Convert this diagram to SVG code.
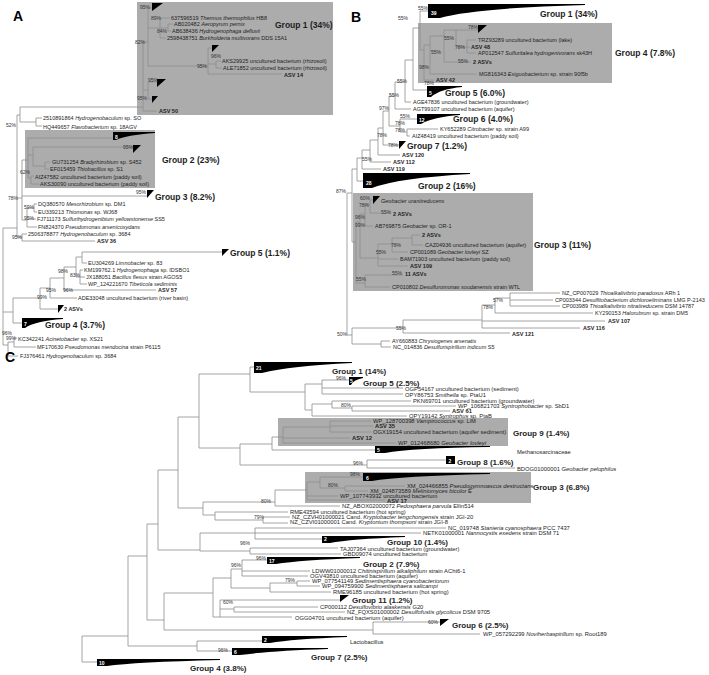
<svg xmlns="http://www.w3.org/2000/svg" width="709" height="675" viewBox="0 0 709 675">
<style>
.ln{fill:none;stroke:#8e8e8e;stroke-width:.8}
text{font-family:"Liberation Sans",Arial,sans-serif;fill:#1e1e1e}
.s{font-size:5.5px}
.sc{font-size:5.8px}
.bs{font-size:5px;fill:#333}
.bd{font-weight:bold}
.g{font-size:8.5px;font-weight:bold}
.gc{font-size:8px;font-weight:bold}
.w{fill:#fff;font-size:5px;font-weight:bold}
.box{fill:#acacac}
.tri{fill:#000}
.pl{font-size:14px;font-weight:bold;fill:#000}
.it{font-style:italic}
</style>
<rect width="709" height="675" fill="#fff"/>

<!-- ============ PANEL A ============ -->
<text class="pl" x="13" y="21">A</text>
<rect class="box" x="137" y="2" width="196" height="113"/>
<rect class="box" x="25" y="130" width="130" height="58"/>

<g id="connectors-A">
<path class="ln" d="M3 228V345M3 228H17M3 312H13M3 345H8
M17 115V237M17 115H20M17 198H22M17 237H22
M20 107V122M20 107H143M20 122H36
M36 118V126M36 118H42M36 126H42
M22 234V241M22 234H27M22 241H95
M22 160V220M22 160H28M22 196H147M22 220H27
M27 208V227M27 208H34M27 219H36M27 227H37
M34 204V212M34 204H37M34 212H37
M28 138V178M28 138H113M28 155H33M28 178H31
M33 147V166M33 147H133M33 166H45
M45 162V169M45 162H50M45 169H49
M31 176V184M31 176H34M31 184H39
M143 42V111M143 42H148M143 90H148M143 111H157
M148 82V99M148 82H157M148 99H152
M148 8V66M148 8H152M148 28H160M148 66H208
M160 18V38M160 18H170M160 28H168M160 38H166
M168 24V31M168 24H173M168 31H171
M208 48V74M208 48H212M208 64H216M208 74H282
M216 61V68M216 61H221M216 68H222
M13 298V323M13 298H40M13 323H22
M40 288V309M40 288H50M40 309H58
M50 278V298M50 278H64M50 298H77
M64 267V290M64 267H76M64 290H156
M76 257V277M76 257H82M76 277H80
M82 252V263M82 252H222M82 263H87
M80 270V284M80 270H83M80 277H85M80 284H87
M8 342V356M8 342H14M8 356H18
M14 338V347M14 338H17M14 347H36"/>
</g>

<g id="A-group1">
<path class="tri" d="M152 3H163L152 11Z"/>
<path class="tri" d="M157 79H166L157 87Z"/>
<path class="tri" d="M152 96H158L152 103Z"/>
<path class="tri" d="M212 45H219L212 52Z"/>
<text class="s" x="171" y="20">637596519 <tspan class="it">Thermus thermophilus</tspan> HB8</text>
<text class="s" x="174" y="26">AB020482 <tspan class="it">Aeropyrum pernix</tspan></text>
<text class="s" x="172" y="33">AB638436 <tspan class="it">Hydrogenophaga defluvii</tspan></text>
<text class="s" x="167" y="40">2598438751 <tspan class="it">Burkholderia multivorans</tspan> DDS 15A1</text>
<text class="s" x="222" y="63">AKS29925 uncultured bacterium (rhizosoil)</text>
<text class="s" x="223" y="70">ALE71852 uncultured bacterium (rhizosoil)</text>
<text class="s bd" x="284" y="77">ASV 14</text>
<text class="s bd" x="159" y="113">ASV 50</text>
<text class="g" x="275" y="28">Group 1 (34%)</text>
</g>
<g id="A-hydrogenobaculum">
<text class="s" x="43" y="120">2510891864 <tspan class="it">Hydrogenobaculum</tspan> sp. SO</text>
<text class="s" x="43" y="129">HQ449657 <tspan class="it">Flavobacterium</tspan> sp. 18AGV</text>
</g>
<g id="A-group2">
<path class="tri" d="M113 132H155L155 133Q126 135 116 140H113Z"/>
<text class="w" x="115" y="139">8</text>
<path class="tri" d="M133 145H141L133 153Z"/>
<text class="s" x="52" y="164">GU731254 <tspan class="it">Bradyrhizobium</tspan> sp. S452</text>
<text class="s" x="50" y="171">EF015459 <tspan class="it">Thiobacillus</tspan> sp. S1</text>
<text class="s" x="35" y="179">AIZ47582 uncultured bacterium (paddy soil)</text>
<text class="s" x="40" y="186">AKS30090 uncultured bacterium (paddy soil)</text>
<text class="g" x="162" y="163">Group 2 (23%)</text>
</g>
<g id="A-group3">
<path class="tri" d="M147 190H154L147 198Z"/>
<text class="g" x="155" y="200">Group 3 (8.2%)</text>
</g>
<g id="A-mid">
<text class="s" x="38" y="206">DQ380570 <tspan class="it">Mesorhizobium</tspan> sp. DM1</text>
<text class="s" x="38" y="214">EU339213 <tspan class="it">Thiomonas</tspan> sp. WJ68</text>
<text class="s" x="37" y="221">FJ711173 <tspan class="it">Sulfurihydrogenibium yellowstonense</tspan> SS5</text>
<text class="s" x="38" y="229">FN824370 <tspan class="it">Pseudomonas arsenicoxydans</tspan></text>
<text class="s" x="28" y="236">2506378877 <tspan class="it">Hydrogenobaculum</tspan> sp. 3684</text>
<text class="s bd" x="97" y="243">ASV 36</text>
</g>
<g id="A-group5">
<path class="tri" d="M222 249H229L222 256Z"/>
<text class="g" x="230" y="256">Group 5 (1.1%)</text>
</g>
<g id="A-lower">
<text class="s" x="88" y="265">EU304269 <tspan class="it">Limnobacter</tspan> sp. 83</text>
<text class="s" x="84" y="272">KM199762.1 <tspan class="it">Hydrogenophaga</tspan> sp. IDSBO1</text>
<text class="s" x="86" y="279">JX188051 <tspan class="it">Bacillus flexus</tspan> strain AGOS5</text>
<text class="s" x="88" y="286">WP_124221670 <tspan class="it">Tibeticola sediminis</tspan></text>
<text class="s bd" x="158" y="292">ASV 57</text>
<text class="s" x="78" y="300">ADE33048 uncultured bacterium (river basin)</text>
<path class="tri" d="M58 305H64L58 313Z"/>
<text class="s bd" x="64" y="311">2 ASVs</text>
</g>
<g id="A-group4">
<path class="tri" d="M22 318H63L63 319Q35 321 25 328H22Z"/>
<text class="w" x="24" y="326">7</text>
<text class="g" x="45" y="328">Group 4 (3.7%)</text>
</g>
<g id="A-bottom">
<text class="s" x="18" y="341">KC342241 <tspan class="it">Acinetobacter</tspan> sp. XS21</text>
<text class="s" x="37" y="349">MF170630 <tspan class="it">Pseudomonas mendocina</tspan> strain P6115</text>
<text class="s" x="20" y="358">FJ376461 <tspan class="it">Hydrogenobaculum</tspan> sp. 3684</text>
</g>
<g id="A-bootstrap">
<text class="bs" x="140" y="9">95%</text>
<text class="bs" x="151" y="20">89%</text>
<text class="bs" x="157" y="33">84%</text>
<text class="bs" x="135" y="44">82%</text>
<text class="bs" x="211" y="58">96%</text>
<text class="bs" x="197" y="68">95%</text>
<text class="bs" x="148" y="82">95%</text>
<text class="bs" x="137" y="100">95%</text>
<text class="bs" x="6" y="127">52%</text>
<text class="bs" x="123" y="149">95%</text>
<text class="bs" x="20" y="174">62%</text>
<text class="bs" x="136" y="194">95%</text>
<text class="bs" x="8" y="200">78%</text>
<text class="bs" x="24" y="209">59%</text>
<text class="bs" x="24" y="220">95%</text>
<text class="bs" x="12" y="239">95%</text>
<text class="bs" x="58" y="273">98%</text>
<text class="bs" x="70" y="276.5">83%</text>
<text class="bs" x="46" y="292">95%</text>
<text class="bs" x="63" y="292">96%</text>
<text class="bs" x="37" y="299">99%</text>
<text class="bs" x="2" y="335">96%</text>
<text class="bs" x="6" y="340">99%</text>
</g>

<!-- ============ PANEL B ============ -->
<text class="pl" x="351" y="22">B</text>
<rect class="box" x="418" y="23" width="194" height="60"/>
<rect class="box" x="353" y="193" width="180" height="98"/>

<g id="connectors-B">
<path class="ln" d="M420 11V50M420 11H428M420 50H424
M424 45V80M424 80H434M424 45H430
M430 36V74M430 74H477M430 36H444
M444 30V62M444 62H471M444 30H456
M456 30V47M456 30H478M456 47H467
M467 40V53M467 40H476M467 47H470M467 53H476
M413 28V90M413 28H420M413 90H427
M405 60V102M405 60H413M405 102H411
M395 82V109M395 82H405M395 109H411
M400 119V132M400 119H417M400 132H407
M407 129V136M407 129H438M407 136H410
M389 96V126M389 96H395M389 126H400
M383 111V145M383 111H389M383 145H399
M378 128V155M378 128H383M378 155H400
M370 140V162M370 140H378M370 162H391
M362 150V169M362 150H370M362 169H381
M357 158V181M357 158H362M357 181H363
M352 169V242M352 169H357M352 242H356
M347 193V335M347 193H352M347 335H352
M356 222V283M356 222H360M356 283H365
M360 214V258M360 214H365M360 258H378
M365 204V226M365 204H370M365 226H373
M370 200V213M370 200H373M370 213H391
M378 244V266M378 244H392M378 259H398M378 266H408
M392 238V252M392 238H412M392 252H408
M412 235V245M412 235H420M412 245H423
M365 275V287M365 275H403M365 287H390
M352 328V344M352 328H403M352 344H381
M381 341V347M381 341H390M381 347H391
M403 320V333M403 320H482M403 333H510
M482 305V328M482 305H495M482 321H605M482 328H580
M495 298V313M495 298H510M495 313H593
M510 293V306M510 293H560M510 300H553M510 306H560"/>
</g>

<g id="B-group1">
<path class="tri" d="M428 4H585L585 5Q475 8 440 18H428Z"/>
<text class="w" x="431" y="15">39</text>
<text class="g" x="540" y="17">Group 1 (34%)</text>
</g>
<g id="B-group4">
<path class="tri" d="M478 25H487L478 33Z"/>
<text class="s" x="478" y="42">TRZ93289 uncultured bacterium (lake)</text>
<text class="s bd" x="471" y="49">ASV 48</text>
<text class="s" x="478" y="55">AP012547 <tspan class="it">Sulfuritalea hydrogenivorans</tspan> sk43H</text>
<text class="s bd" x="473" y="64">2 ASVs</text>
<text class="s" x="479" y="76">MG816343 <tspan class="it">Exiguobacterium</tspan> sp. strain 90f5b</text>
<text class="s bd" x="436" y="82">ASV 42</text>
<text class="g" x="615" y="56">Group 4 (7.8%)</text>
</g>
<g id="B-group5">
<path class="tri" d="M427 86H462L462 87Q440 89 431 97H427Z"/>
<text class="w" x="429" y="95">5</text>
<text class="g" x="445" y="96">Group 5 (6.0%)</text>
</g>
<g id="B-mid">
<text class="s" x="413" y="104">AGE47836 uncultured bacterium (groundwater)</text>
<text class="s" x="413" y="111">AGT99107 uncultured bacterium (aquifer)</text>
</g>
<g id="B-group6">
<path class="tri" d="M417 114H460L460 115Q433 117 421 124H417Z"/>
<text class="w" x="419" y="122">12</text>
<text class="g" x="453" y="122">Group 6 (4.0%)</text>
<text class="s" x="440" y="131">KY652289 <tspan class="it">Citrobacter</tspan> sp. strain A99</text>
<text class="s" x="412" y="138">AIZ48419 uncultured bacterium (paddy soil)</text>
</g>
<g id="B-group7">
<path class="tri" d="M399 141H406L399 149Z"/>
<text class="g" x="407" y="149">Group 7 (1.2%)</text>
<text class="s bd" x="402" y="157">ASV 120</text>
<text class="s bd" x="393" y="164">ASV 112</text>
<text class="s bd" x="383" y="171">ASV 119</text>
</g>
<g id="B-group2">
<path class="tri" d="M363 173H470L470 174Q398 178 372 188H363Z"/>
<text class="w" x="366" y="185">28</text>
<text class="g" x="418" y="189">Group 2 (16%)</text>
</g>
<g id="B-group3">
<path class="tri" d="M373 196H380L373 204Z"/>
<text class="s it" x="381" y="203">Geobacter uraniireducens</text>
<text class="s bd" x="393" y="216">2 ASVs</text>
<text class="s" x="375" y="228">AB769875 <tspan class="it">Geobacter</tspan> sp. OR-1</text>
<text class="s bd" x="422" y="237">2 ASVs</text>
<text class="s" x="425" y="247">CAZ04936 uncultured bacterium (aquifer)</text>
<text class="s" x="410" y="254">CP001089 <tspan class="it">Geobacter lovleyi</tspan> SZ</text>
<text class="s" x="400" y="261">BAM71903 uncultured bacterium (paddy soil)</text>
<text class="s bd" x="410" y="268">ASV 109</text>
<text class="s bd" x="405" y="276">11 ASVs</text>
<text class="s" x="392" y="289">CP010802 <tspan class="it">Desulfuromonas soudanensis</tspan> strain WTL</text>
<text class="g" x="534" y="248">Group 3 (11%)</text>
</g>
<g id="B-lower">
<text class="s" x="562" y="295">NZ_CP007029 <tspan class="it">Thioalkalivibrio paradoxus</tspan> ARh 1</text>
<text class="s" x="555" y="302">CP003344 <tspan class="it">Desulfitobacterium dichloroeliminans</tspan> LMG P-2143</text>
<text class="s" x="562" y="308">CP003989 <tspan class="it">Thioalkalivibrio nitratireducens</tspan> DSM 14787</text>
<text class="s" x="595" y="315">KY290153 <tspan class="it">Halorubrum</tspan> sp. strain DM5</text>
<text class="s bd" x="608" y="323">ASV 107</text>
<text class="s bd" x="583" y="330">ASV 116</text>
<text class="s bd" x="512" y="336">ASV 121</text>
<text class="s" x="392" y="343">AY660883 <tspan class="it">Chrysiogenes arsenatis</tspan></text>
<text class="s" x="393" y="349">NC_014836 <tspan class="it">Desulfurispirillum indicum</tspan> S5</text>
</g>
<g id="B-bootstrap">
<text class="bs" x="418" y="10">55%</text>
<text class="bs" x="398" y="20">55%</text>
<text class="bs" x="468" y="29">78%</text>
<text class="bs" x="444" y="40">55%</text>
<text class="bs" x="455" y="49">78%</text>
<text class="bs" x="431" y="54">55%</text>
<text class="bs" x="458" y="63">55%</text>
<text class="bs" x="419" y="69">98%</text>
<text class="bs" x="424" y="85">78%</text>
<text class="bs" x="397" y="83">55%</text>
<text class="bs" x="389" y="97">55%</text>
<text class="bs" x="379" y="110">97%</text>
<text class="bs" x="400" y="118">55%</text>
<text class="bs" x="395" y="125">78%</text>
<text class="bs" x="395" y="132">78%</text>
<text class="bs" x="377" y="137">78%</text>
<text class="bs" x="388" y="147">78%</text>
<text class="bs" x="362" y="161">55%</text>
<text class="bs" x="336" y="193">87%</text>
<text class="bs" x="360" y="200">60%</text>
<text class="bs" x="359" y="207">78%</text>
<text class="bs" x="381" y="214">55%</text>
<text class="bs" x="355" y="219">96%</text>
<text class="bs" x="355" y="227">99%</text>
<text class="bs" x="391" y="247">78%</text>
<text class="bs" x="376" y="254">55%</text>
<text class="bs" x="392" y="275">55%</text>
<text class="bs" x="356" y="281">55%</text>
<text class="bs" x="493" y="302">57%</text>
<text class="bs" x="483" y="309">78%</text>
<text class="bs" x="396" y="330">55%</text>
<text class="bs" x="337" y="336">50%</text>
</g>

<!-- ============ PANEL C ============ -->
<text class="pl" x="5" y="362">C</text>
<rect class="box" x="278" y="418" width="230" height="28"/>
<rect class="box" x="305" y="472" width="226" height="31"/>

<g id="connectors-C">
<path class="ln" d="M82 636V662M82 636H128M82 662H97
M128 556V646M128 556H147M128 646H197
M197 641V651M197 641H262M197 651H232
M147 524V620M147 524H158M147 620H164
M164 593V630M164 593H213M164 630H373
M373 622V634M373 622H440M373 634H480
M213 578V617M213 578H231M213 617H220
M220 600V617M220 600H340M220 609H234M220 617H292
M234 607V612M234 607H318M234 612H345
M231 569V588M231 569H242M231 588H270
M242 560V576M242 560H267M242 571H310M242 576H308
M270 583V592M270 583H297M270 592H331
M297 581V586M297 581H310M297 586H320
M158 470V550M158 470H178M158 550H200
M200 533V551M200 533H255M200 551H250
M255 528V539M255 528H446M255 533H421M255 539H322
M250 548V554M250 548H338M250 554H341
M178 417V508M178 417H199M178 508H203
M203 502V515M203 502H275M203 515H215
M215 512V520M215 512H288M215 520H263
M263 517V523M263 517H290M263 523H288
M275 490V506M275 490H307M275 506H340
M307 482V500M307 482H320M307 496H338M307 500H385
M320 477V488M320 477H363M320 488H345
M345 486V491M345 486H405M345 491H368
M199 374V448M199 374H250M199 448H240
M250 367V392M250 367H254M250 392H305
M305 384V410M305 384H322M305 410H312
M322 380V394M322 380H349M322 388H403M322 394H403
M312 404V416M312 404H332M312 416H407
M332 401V408M332 401H411M332 408H352
M352 406V411M352 406H456M352 411H450
M240 444V465M240 444H272M240 465H367
M272 437V450M272 437H283M272 450H375
M283 427V443M283 427H330M283 438H350M283 443H396
M330 421V432M330 421H371M330 426H373M330 432H371
M367 460V468M367 460H446M367 468H515"/>
</g>

<g id="C-group1">
<path class="tri" d="M254 362H352L352 363Q290 366 262 373H254Z"/>
<text class="w" x="256" y="370">21</text>
<text class="gc" x="332" y="374">Group 1 (14%)</text>
</g>
<g id="C-group5">
<path class="tri" d="M349 377H363L363 378Q353 380 351 385H349Z"/>
<text class="w" x="350" y="383">5</text>
<text class="gc" x="363" y="386">Group 5 (2.5%)</text>
</g>
<g id="C-syntroph">
<text class="sc" x="405" y="391">OGP54167 uncultured  bacterium  (sediment)</text>
<text class="sc" x="405" y="397">OPY86753 <tspan class="it">Smithella</tspan> sp. PtaU1</text>
<text class="sc" x="413" y="403">PKN69701 uncultured  bacterium  (groundwater)</text>
<text class="sc" x="458" y="408">WP_106821703 <tspan class="it">Syntrophobacter</tspan> sp. SbD1</text>
<text class="sc bd" x="452" y="413">ASV 61</text>
<text class="sc" x="409" y="418">OPY19142 <tspan class="it">Syntrophus</tspan> sp. PtaB</text>
</g>
<g id="C-group9">
<text class="sc" x="373" y="423">WP_128700398 <tspan class="it">Vampirococcus</tspan> sp. LiM</text>
<text class="sc bd" x="375" y="428">ASV 35</text>
<text class="sc" x="373" y="434">OGX19154 uncultured  bacterium  (aquifer sediment)</text>
<text class="sc bd" x="352" y="440">ASV 12</text>
<text class="sc" x="398" y="445">WP_012468680 <tspan class="it">Geobacter lovleyi</tspan></text>
<text class="gc" x="513" y="436">Group 9 (1.4%)</text>
</g>
<g id="C-methano">
<path class="tri" d="M375 446H490L490 447Q412 448 385 453H375Z"/>
<text class="w" x="377" y="452">5</text>
<text class="sc" x="517" y="454">Methanosarcinaceae</text>
</g>
<g id="C-group8">
<rect class="tri" x="446" y="456" width="9" height="8"/>
<text class="w" x="448.5" y="462.5">2</text>
<text class="gc" x="457" y="465">Group 8 (1.6%)</text>
<text class="sc" x="517" y="471">BDOG01000001 <tspan class="it">Geobacter pelophilus</tspan></text>
</g>
<g id="C-group3">
<path class="tri" d="M363 473H490L490 474Q400 476 372 481H363Z"/>
<text class="w" x="366" y="480">6</text>
<text class="sc" x="407" y="488">XM_024466855 <tspan class="it">Pseudogymnoascus destructans</tspan></text>
<text class="sc" x="370" y="493">XM_024873589 <tspan class="it">Meliniomyces bicolor</tspan> E</text>
<text class="sc" x="340" y="498">WP_107743932 uncultured  bacterium</text>
<text class="sc bd" x="387" y="503">ASV 17</text>
<text class="gc" x="533" y="490">Group 3 (6.8%)</text>
</g>
<g id="C-mid">
<text class="sc" x="342" y="508">NZ_ABOX02000072 <tspan class="it">Pedosphaera parvula</tspan> Ellin514</text>
<text class="sc" x="290" y="514">RME43594 uncultured  bacterium  (hot spring)</text>
<text class="sc" x="292" y="519">NZ_CZVH01000021 Cand. <tspan class="it">Kryptobacter tengchongensis</tspan> strain JGI-20</text>
<text class="sc" x="290" y="524">NZ_CZVI01000001 Cand. <tspan class="it">Kryptonium thompsoni</tspan> strain JGI-8</text>
<text class="sc" x="448" y="530">NC_019748 <tspan class="it">Stanieria cyanosphaera</tspan> PCC 7437</text>
<text class="sc" x="423" y="535">NETK01000001 <tspan class="it">Nannocystis exedens</tspan> strain DSM 71</text>
</g>
<g id="C-group10">
<path class="tri" d="M322 536H405L405 537Q350 539 330 543H322Z"/>
<text class="w" x="324" y="541">2</text>
<text class="gc" x="387" y="545">Group 10 (1.4%)</text>
<text class="sc" x="340" y="550.5">TAJ07364 uncultured  bacterium  (groundwater)</text>
<text class="sc" x="343" y="556">GBD09074 uncultured  bacterium</text>
</g>
<g id="C-group2">
<path class="tri" d="M267 557H360L360 558Q300 560 276 564H267Z"/>
<text class="w" x="269" y="562.5">17</text>
<text class="gc" x="363" y="566.5">Group 2 (7.9%)</text>
<text class="sc" x="312" y="573">LDWW01000012 <tspan class="it">Chitinispirillum alkaliphilum</tspan> strain ACht6-1</text>
<text class="sc" x="310" y="578">OGV43810 uncultured  bacterium  (aquifer)</text>
<text class="sc" x="312" y="583">WP_077541149 <tspan class="it">Sedimentisphaera cyanobacteriorum</tspan></text>
<text class="sc" x="322" y="588">WP_094759900 <tspan class="it">Sedimentisphaera salicampi</tspan></text>
<text class="sc" x="333" y="594">RME96185 uncultured  bacterium  (hot spring)</text>
</g>
<g id="C-group11">
<path class="tri" d="M340 595H349L340 602Z"/>
<text class="gc" x="352" y="602.5">Group 11 (1.2%)</text>
<text class="sc" x="320" y="609">CP000112 <tspan class="it">Desulfovibrio alaskensis</tspan> G20</text>
<text class="sc" x="347" y="614">NZ_FQXS01000002 <tspan class="it">Desulfofustis glycolicus</tspan> DSM 9705</text>
<text class="sc" x="295" y="620">OGG04701 uncultured  bacterium  (aquifer)</text>
</g>
<g id="C-group6">
<path class="tri" d="M440 619H449L440 626Z"/>
<text class="gc" x="452" y="628">Group 6 (2.5%)</text>
<text class="sc" x="483" y="636">WP_057292299 <tspan class="it">Noviherbaspirillum</tspan> sp. Root189</text>
</g>
<g id="C-lacto">
<path class="tri" d="M262 636H347L347 637Q292 639 270 643H262Z"/>
<text class="w" x="264" y="641.5">2</text>
<text class="sc" x="350" y="644">Lactobacillus</text>
</g>
<g id="C-group7">
<path class="tri" d="M232 648H328L328 649Q268 651 240 655H232Z"/>
<text class="w" x="234" y="653.5">6</text>
<text class="gc" x="311" y="660">Group 7 (2.5%)</text>
</g>
<g id="C-group4">
<path class="tri" d="M97 659H220L220 660Q134 662 107 666H97Z"/>
<text class="w" x="99" y="664.5">10</text>
<text class="gc" x="190" y="671">Group 4 (3.8%)</text>
</g>
<g id="C-bootstrap">
<text class="bs" x="336" y="380">96%</text>
<text class="bs" x="341" y="407">80%</text>
<text class="bs" x="353" y="465">96%</text>
<text class="bs" x="350" y="476">98%</text>
<text class="bs" x="328" y="487">80%</text>
<text class="bs" x="261" y="503">80%</text>
<text class="bs" x="254" y="519">79%</text>
<text class="bs" x="240" y="545">96%</text>
<text class="bs" x="256" y="560">96%</text>
<text class="bs" x="231" y="567">96%</text>
<text class="bs" x="285" y="582">79%</text>
<text class="bs" x="223" y="604">60%</text>
<text class="bs" x="428" y="624">60%</text>
<text class="bs" x="218" y="652">96%</text>
</g>
</svg>
